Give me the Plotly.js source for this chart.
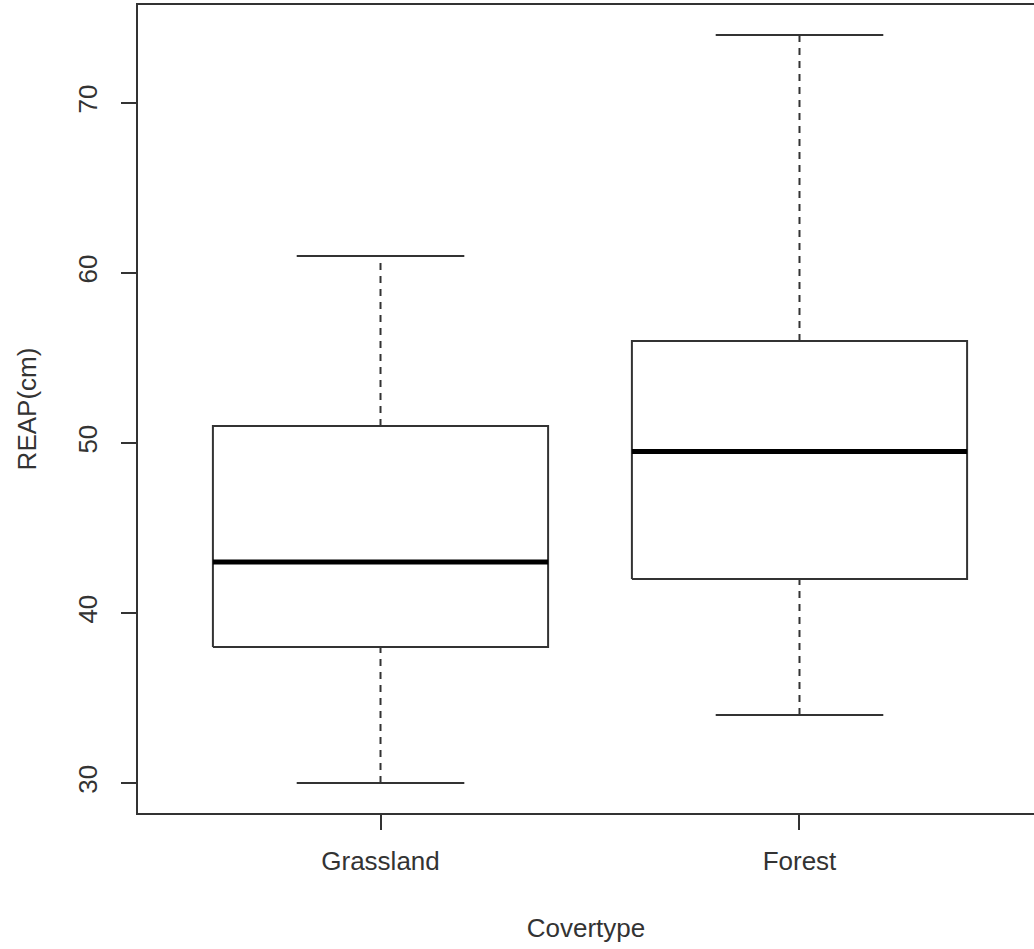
<!DOCTYPE html>
<html>
<head>
<meta charset="utf-8">
<script src="https://cdn.plot.ly/plotly-3.0.1.min.js"></script>
<style>html,body{margin:0;padding:0;background:#fff;}#chart{width:1034px;height:949px;}</style>
</head>
<body>
<div id="chart"></div>
<script>
const categories = ["Grassland", "Forest"];
const lowerWhisker = [30, 34];
const q1Values = [38, 42];
const medianValues = [43, 49.5];
const q3Values = [51, 56];
const upperWhisker = [61, 74];
const yTickValues = [30, 40, 50, 60, 70];

const boxHalf = 0.4;
const capHalf = 0.2;
const lineColor = "#333333";

const traces = [];
categories.forEach(function(cat, i) {
  const x = i + 1;
  // whiskers (dashed)
  traces.push({
    type: "scatter", mode: "lines", hoverinfo: "skip", showlegend: false,
    x: [x, x, null, x, x],
    y: [lowerWhisker[i], q1Values[i], null, q3Values[i], upperWhisker[i]],
    line: {color: lineColor, width: 2, dash: "7px,6px"}
  });
  // caps
  traces.push({
    type: "scatter", mode: "lines", hoverinfo: "skip", showlegend: false,
    x: [x - capHalf, x + capHalf, null, x - capHalf, x + capHalf],
    y: [lowerWhisker[i], lowerWhisker[i], null, upperWhisker[i], upperWhisker[i]],
    line: {color: lineColor, width: 2}
  });
  // box
  traces.push({
    type: "scatter", mode: "lines", hoverinfo: "skip", showlegend: false,
    x: [x - boxHalf, x + boxHalf, x + boxHalf, x - boxHalf, x - boxHalf],
    y: [q1Values[i], q1Values[i], q3Values[i], q3Values[i], q1Values[i]],
    line: {color: lineColor, width: 2},
    fill: "toself", fillcolor: "#ffffff"
  });
  // median
  traces.push({
    type: "scatter", mode: "lines", hoverinfo: "skip", showlegend: false,
    x: [x - boxHalf, x + boxHalf],
    y: [medianValues[i], medianValues[i]],
    line: {color: "#000000", width: 5}
  });
});

const font = {family: "Liberation Sans, Arial, sans-serif", size: 26, color: "#333333"};

const layout = {
  width: 1034, height: 949,
  margin: {l: 138, r: 0, t: 5, b: 136, pad: 0},
  paper_bgcolor: "#ffffff", plot_bgcolor: "#ffffff",
  font: font,
  showlegend: false,
  xaxis: {
    range: [0.4212, 2.5597],
    tickvals: [1, 2], ticktext: categories,
    ticks: "outside", ticklen: 15, tickwidth: 2, tickcolor: lineColor,
    ticklabelstandoff: 9,
    showline: true, linecolor: lineColor, linewidth: 2, mirror: true,
    showgrid: false, zeroline: false,
    tickfont: font,
    title: {text: "Covertype", font: font, standoff: 44}
  },
  yaxis: {
    range: [28.24, 75.76],
    tickvals: yTickValues,
    ticktext: yTickValues.map(String),
    tickangle: -90,
    ticks: "outside", ticklen: 15, tickwidth: 2, tickcolor: lineColor,
    ticklabelstandoff: 14,
    showline: true, linecolor: lineColor, linewidth: 2,
    showgrid: false, zeroline: false,
    tickfont: font,
    title: {text: "REAP(cm)", font: font, standoff: 28}
  }
};

Plotly.newPlot("chart", traces, layout, {displayModeBar: false, staticPlot: true});
</script>
</body>
</html>
